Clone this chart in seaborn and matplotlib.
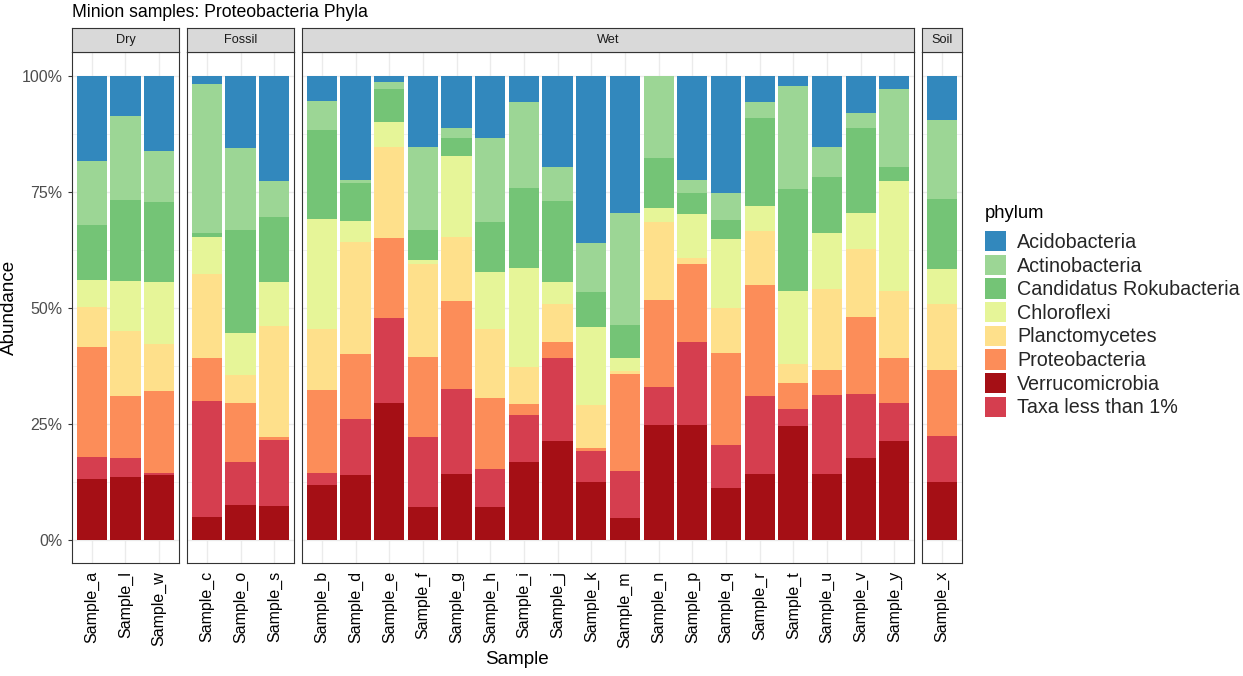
import numpy as np
import pandas as pd
import matplotlib
matplotlib.use("Agg")
import matplotlib.pyplot as plt
import seaborn as sns
from matplotlib.patches import Patch
from matplotlib.ticker import FixedLocator

# ---------------- data ----------------
samples = ["Sample_a", "Sample_l", "Sample_w",
           "Sample_c", "Sample_o", "Sample_s",
           "Sample_b", "Sample_d", "Sample_e", "Sample_f", "Sample_g", "Sample_h",
           "Sample_i", "Sample_j", "Sample_k", "Sample_m", "Sample_n", "Sample_p",
           "Sample_q", "Sample_r", "Sample_t", "Sample_u", "Sample_v", "Sample_y",
           "Sample_x"]
habitat = ["Dry"] * 3 + ["Fossil"] * 3 + ["Wet"] * 18 + ["Soil"]
facets = ["Dry", "Fossil", "Wet", "Soil"]

phyla = ["Acidobacteria", "Actinobacteria", "Candidatus Rokubacteria", "Chloroflexi",
         "Planctomycetes", "Proteobacteria", "Verrucomicrobia", "Taxa less than 1%"]
phylum_colors = ["#3288BD", "#9CD695", "#74C476", "#E6F598",
                 "#FEE08B", "#FC8D59", "#A50F15", "#D53E4F"]

#                a     l     w     c     o     s     b     d     e     f     g     h     i     j     k     m     n     p     q     r     t     u     v     y     x
acidobacteria = [18.5, 8.8, 16.3, 1.9, 15.7, 22.8, 5.4, 22.4, 1.5, 15.5, 11.2, 13.5, 5.6, 19.6, 36.1, 29.7, 0.0, 22.4, 25.2, 5.8, 2.2, 15.3, 8.0, 2.8, 9.5]
actinobacteria = [13.8, 18.1, 11.0, 32.0, 17.6, 7.7, 6.4, 0.8, 1.3, 17.8, 2.3, 18.1, 18.7, 7.5, 10.5, 24.1, 17.8, 2.8, 6.0, 3.4, 22.3, 6.6, 3.3, 17.0, 17.0]
rokubacteria = [11.8, 17.4, 17.2, 1.0, 22.2, 14.0, 19.2, 8.2, 7.3, 6.5, 3.9, 10.8, 17.2, 17.4, 7.5, 7.1, 10.8, 4.7, 4.1, 19.0, 22.0, 12.1, 18.3, 3.0, 15.2]
chloroflexi = [5.8, 10.8, 13.3, 7.9, 9.0, 9.5, 23.6, 4.5, 5.4, 0.8, 17.4, 12.2, 21.3, 4.7, 16.8, 2.8, 3.0, 9.5, 14.8, 5.3, 15.7, 12.0, 7.9, 23.7, 7.5]
planctomycetes = [8.5, 13.9, 10.2, 18.2, 6.0, 23.8, 13.1, 24.1, 19.6, 20.0, 13.8, 14.9, 8.0, 8.2, 9.2, 0.6, 16.8, 1.2, 9.7, 11.7, 4.0, 17.4, 14.6, 14.4, 14.2]
proteobacteria = [23.8, 13.4, 17.7, 9.2, 12.7, 0.7, 17.9, 14.0, 17.2, 17.2, 18.9, 15.2, 2.3, 3.5, 0.7, 20.9, 18.7, 16.8, 19.8, 23.8, 5.6, 5.4, 16.6, 9.6, 14.2]
verrucomicrobia = [13.1, 13.5, 14.0, 4.9, 7.5, 7.3, 11.8, 14.0, 29.5, 7.1, 14.2, 7.1, 16.8, 21.3, 12.5, 4.7, 24.7, 24.7, 11.2, 14.2, 24.5, 14.2, 17.6, 21.3, 12.5]
taxa_lt1 = [4.7, 4.1, 0.3, 25.0, 9.3, 14.2, 2.6, 12.0, 18.2, 15.1, 18.3, 8.2, 10.1, 17.8, 6.6, 10.1, 8.2, 17.9, 9.2, 16.8, 3.7, 17.0, 13.8, 8.2, 9.9]

values = {
    "Acidobacteria": acidobacteria,
    "Actinobacteria": actinobacteria,
    "Candidatus Rokubacteria": rokubacteria,
    "Chloroflexi": chloroflexi,
    "Planctomycetes": planctomycetes,
    "Proteobacteria": proteobacteria,
    "Verrucomicrobia": verrucomicrobia,
    "Taxa less than 1%": taxa_lt1,
}
# stacking order from bottom to top
stack_order = ["Verrucomicrobia", "Taxa less than 1%", "Proteobacteria", "Planctomycetes",
               "Chloroflexi", "Candidatus Rokubacteria", "Actinobacteria", "Acidobacteria"]

palette = dict(zip(phyla, phylum_colors))

# ---------------- data frame ----------------
wide = pd.DataFrame(values)
wide.insert(0, "sample", samples)
wide.insert(1, "habitat", habitat)
tot = wide[phyla].sum(axis=1)
for p in phyla:
    wide[p] = wide[p] / tot * 100
cum = wide[stack_order].cumsum(axis=1)
long_rows = []
for i, s in enumerate(samples):
    for p in stack_order:
        long_rows.append({"sample": s, "habitat": habitat[i], "phylum": p,
                          "top": cum.loc[i, p]})
df = pd.DataFrame(long_rows)

# ---------------- style ----------------
sns.set_style("white")
plt.rcParams["font.family"] = ["Liberation Sans", "DejaVu Sans"]

W, H = 1243, 676
fig = plt.figure(figsize=(W / 100, H / 100), dpi=100)

unit = 33.67
pad_px = 3.24
gap = 7.6
x_start = 71.7
panel_top = 52.3
panel_bot = 563.0
strip_top = 28.3

def fx(px):
    return px / W

def fy(py):
    return 1 - py / H

border = "#333333"
grid_c = "#EBEBEB"

x0 = x_start
for fi, fac in enumerate(facets):
    fac_samples = [s for s, h in zip(samples, habitat) if h == fac]
    n = len(fac_samples)
    wpx = n * unit + 2 * pad_px
    ax = fig.add_axes([fx(x0), fy(panel_bot), fx(wpx), (panel_bot - panel_top) / H])
    sub = df[df["habitat"] == fac]
    for p in reversed(stack_order):
        d = sub[sub["phylum"] == p]
        sns.barplot(data=d, x="sample", y="top", order=fac_samples, color=palette[p],
                    saturation=1, width=0.9, errorbar=None, linewidth=0, ax=ax)
    ax.set_xlim(-0.5 - pad_px / unit, n - 0.5 + pad_px / unit)
    ax.set_ylim(-5, 105)
    ax.set_xlabel("")
    ax.set_ylabel("")
    ax.set_axisbelow(True)
    ax.yaxis.set_major_locator(FixedLocator([0, 25, 50, 75, 100]))
    ax.yaxis.set_minor_locator(FixedLocator([12.5, 37.5, 62.5, 87.5]))
    ax.grid(which="major", color=grid_c, lw=1.0)
    ax.grid(which="minor", axis="y", color=grid_c, lw=0.5)
    ax.tick_params(which="minor", length=0)
    ax.set_xticks(range(n))
    ax.set_xticklabels(fac_samples, rotation=90, fontsize=11.5, color="black")
    ax.tick_params(axis="x", length=2.8, width=0.8, color=border, pad=3.0)
    if fi == 0:
        ax.set_yticklabels(["0%", "25%", "50%", "75%", "100%"], fontsize=11.5,
                           color="#4D4D4D")
        ax.tick_params(axis="y", length=2.8, width=0.8, color=border, pad=4.0, left=True)
    else:
        ax.tick_params(axis="y", left=False, labelleft=False)
    for sp in ax.spines.values():
        sp.set_visible(True)
        sp.set_color(border)
        sp.set_linewidth(0.8)
    # strip
    sax = fig.add_axes([fx(x0), fy(panel_top), fx(wpx), (panel_top - strip_top) / H])
    sax.set_facecolor("#D9D9D9")
    sax.set_xticks([])
    sax.set_yticks([])
    for sp in sax.spines.values():
        sp.set_visible(True)
        sp.set_color(border)
        sp.set_linewidth(0.8)
    sax.text(0.5, 0.5, fac, ha="center", va="center", fontsize=9.2, color="#1A1A1A",
             transform=sax.transAxes)
    x0 += wpx + gap

x_end = x0 - gap

# titles
fig.text(fx(72), fy(12.5), "Minion samples: Proteobacteria Phyla", fontsize=12.7,
         ha="left", va="center", color="black")
fig.text(fx(9), fy((panel_top + panel_bot) / 2), "Abundance", rotation=90, fontsize=13.6,
         ha="center", va="center", color="black")
fig.text(fx((x_start + x_end) / 2), fy(659), "Sample", fontsize=13.6,
         ha="center", va="center", color="black")

# legend
fig.text(fx(985), fy(214), "phylum", fontsize=13.2, ha="left", va="center", color="black")
handles = [Patch(facecolor=palette[p], edgecolor="none", label=p) for p in phyla]
leg = fig.legend(handles=handles, loc="upper left", bbox_to_anchor=(fx(985), fy(231)),
                 frameon=False, fontsize=14.2,
                 handlelength=1.07, handleheight=1.22, labelspacing=0.14,
                 handletextpad=0.56, borderpad=0, borderaxespad=0)

fig.savefig("out.png", dpi=100)
